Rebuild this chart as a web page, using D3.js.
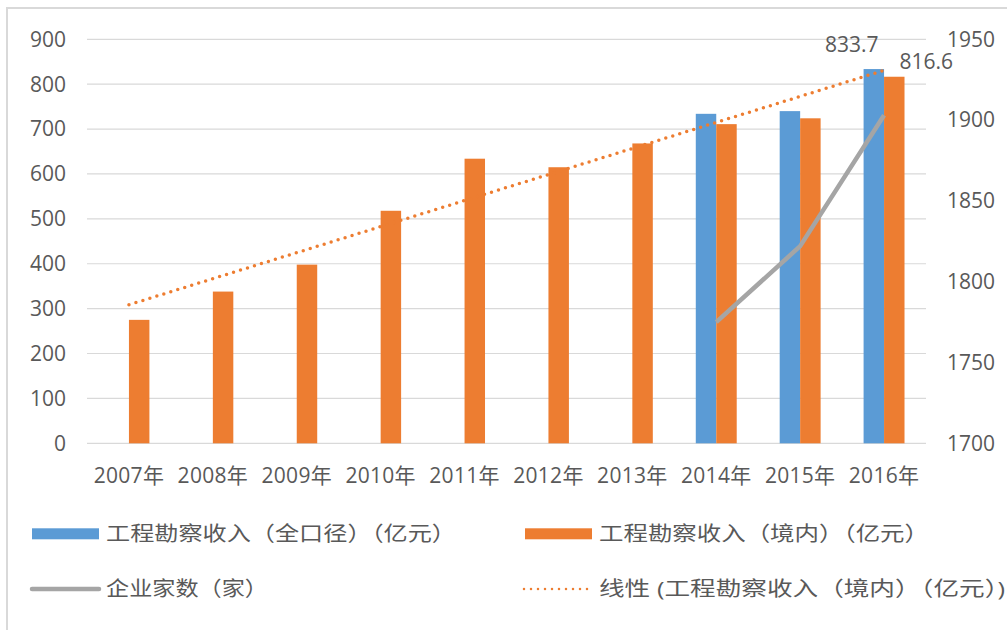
<!DOCTYPE html>
<html><head><meta charset="utf-8">
<script src="https://cdn.jsdelivr.net/npm/d3@7"></script>
<style>
html,body{margin:0;padding:0;background:#fff;overflow:hidden}
text{font-family:"Open Sans","Noto Sans CJK SC",sans-serif;fill:#595959}
</style></head><body>
<svg id="c" width="1007" height="630"></svg>
<script>
const categories = ["2007年","2008年","2009年","2010年","2011年","2012年","2013年","2014年","2015年","2016年"];
const totalIncome = [null,null,null,null,null,null,null,734,740,833.7];
const domesticIncome = [275,338,398,518,634,615,668,711,724,816.6];
const firmCount = [null,null,null,null,null,null,null,1775,1822,1903];
const leftTicks = [0,100,200,300,400,500,600,700,800,900];
const rightTicks = [1700,1750,1800,1850,1900,1950];
const seriesNames = ["工程勘察收入（全口径）（亿元）","工程勘察收入（境内）（亿元）","企业家数（家）","线性 (工程勘察收入（境内）（亿元）)"];
const colors = {blue:"#5b9bd5", orange:"#ed7d31", grey:"#a5a5a5", grid:"#d9d9d9"};

const svg = d3.select("#c");
// frame
svg.append("rect").attr("x",7).attr("y",8).attr("width",1100).attr("height",700)
  .attr("fill","none").attr("stroke","#d9d9d9").attr("stroke-width",2);

const L=87, R=926, T=39.3, B=443.3;
const x = d3.scaleBand().domain(categories).range([L,R]).padding(0);
const step = x.bandwidth();
const groupW = step/2.05;
const x1 = d3.scaleBand().domain(["total","dom"]).range([step/2-groupW/2, step/2+groupW/2]).padding(0);
const yL = d3.scaleLinear().domain([0,900]).range([B,T]);
const yR = d3.scaleLinear().domain([1700,1950]).range([B,T]);

// gridlines
svg.append("g").selectAll("line").data(leftTicks).join("line")
  .attr("x1",L).attr("x2",R).attr("y1",d=>yL(d)).attr("y2",d=>yL(d))
  .attr("stroke",colors.grid).attr("stroke-width",1.2);

// left axis labels
const fs = 21;
svg.append("g").selectAll("text").data(leftTicks).join("text")
  .attr("x",66).attr("y",d=>yL(d)).attr("dy","0.35em").attr("text-anchor","end")
  .attr("font-size",fs).text(d=>d);
// right axis labels
svg.append("g").selectAll("text").data(rightTicks).join("text")
  .attr("x",947).attr("y",d=>yR(d)).attr("dy","0.35em").attr("text-anchor","start")
  .attr("font-size",fs).text(d=>d);
// x labels
svg.append("g").selectAll("text").data(categories).join("text")
  .attr("x",d=>x(d)+step/2).attr("y",476).attr("dy","0.35em").attr("text-anchor","middle")
  .attr("font-size",fs).attr("letter-spacing","0.3px").text(d=>d);

// bars
const bw = x1.bandwidth();
svg.append("g").selectAll("rect").data(categories.map((c,i)=>({c,v:totalIncome[i]})).filter(d=>d.v!=null)).join("rect")
  .attr("x",d=>x(d.c)+x1("total")).attr("width",bw)
  .attr("y",d=>yL(d.v)).attr("height",d=>yL(0)-yL(d.v)).attr("fill",colors.blue);
svg.append("g").selectAll("rect").data(categories.map((c,i)=>({c,v:domesticIncome[i]}))).join("rect")
  .attr("x",d=>x(d.c)+x1("dom")).attr("width",bw)
  .attr("y",d=>yL(d.v)).attr("height",d=>yL(0)-yL(d.v)).attr("fill",colors.orange);

// linear trend of domestic income
const n = domesticIncome.length;
const mx = d3.mean(d3.range(n)), my = d3.mean(domesticIncome);
const slope = d3.sum(d3.range(n), i=>(i-mx)*(domesticIncome[i]-my)) / d3.sum(d3.range(n), i=>(i-mx)*(i-mx));
const icpt = my - slope*mx;
const trendPts = [0,n-1].map(i=>[x(categories[i])+step/2, yL(icpt+slope*i)]);
svg.append("path").attr("d",d3.line()(trendPts)).attr("fill","none")
  .attr("stroke",colors.orange).attr("stroke-width",3.5).attr("stroke-linecap","round")
  .attr("stroke-dasharray","0 7.3");

// firm count line
const linePts = categories.map((c,i)=>({c,v:firmCount[i]})).filter(d=>d.v!=null);
svg.append("path").attr("d",d3.line().x(d=>x(d.c)+step/2).y(d=>yR(d.v))(linePts))
  .attr("fill","none").attr("stroke",colors.grey).attr("stroke-width",4.5).attr("stroke-linejoin","round");

// data labels
const last = categories[n-1];
svg.append("text").attr("x",x(last)+x1("total")+bw/2-22).attr("y",51.5).attr("text-anchor","middle")
  .attr("font-size",fs).text(totalIncome[n-1]);
svg.append("text").attr("x",x(last)+x1("dom")+bw/2+32).attr("y",68.5).attr("text-anchor","middle")
  .attr("font-size",fs).text(domesticIncome[n-1]);

// legend
const lg = svg.append("g");
const lfs = 20.5;
function legText(xp, yp, s, w){
  lg.append("text").attr("x",xp).attr("y",yp).attr("dy","0.35em").attr("font-size",lfs)
    .attr("textLength",w).attr("lengthAdjust","spacingAndGlyphs").text(s);
}
lg.append("rect").attr("x",32).attr("y",528.3).attr("width",67).attr("height",11).attr("fill",colors.blue);
legText(106, 533.5, seriesNames[0], 350);
lg.append("rect").attr("x",525).attr("y",528.3).attr("width",67).attr("height",11).attr("fill",colors.orange);
legText(599, 533.5, seriesNames[1], 330);
lg.append("line").attr("x1",32).attr("x2",99).attr("y1",589).attr("y2",589)
  .attr("stroke",colors.grey).attr("stroke-width",4.5).attr("stroke-linecap","round");
legText(106, 589, seriesNames[2], 162);
lg.append("line").attr("x1",524).attr("x2",588).attr("y1",589).attr("y2",589)
  .attr("stroke",colors.orange).attr("stroke-width",2.5).attr("stroke-linecap","round").attr("stroke-dasharray","0 7");
legText(599, 589, seriesNames[3], 406);
</script></body></html>
